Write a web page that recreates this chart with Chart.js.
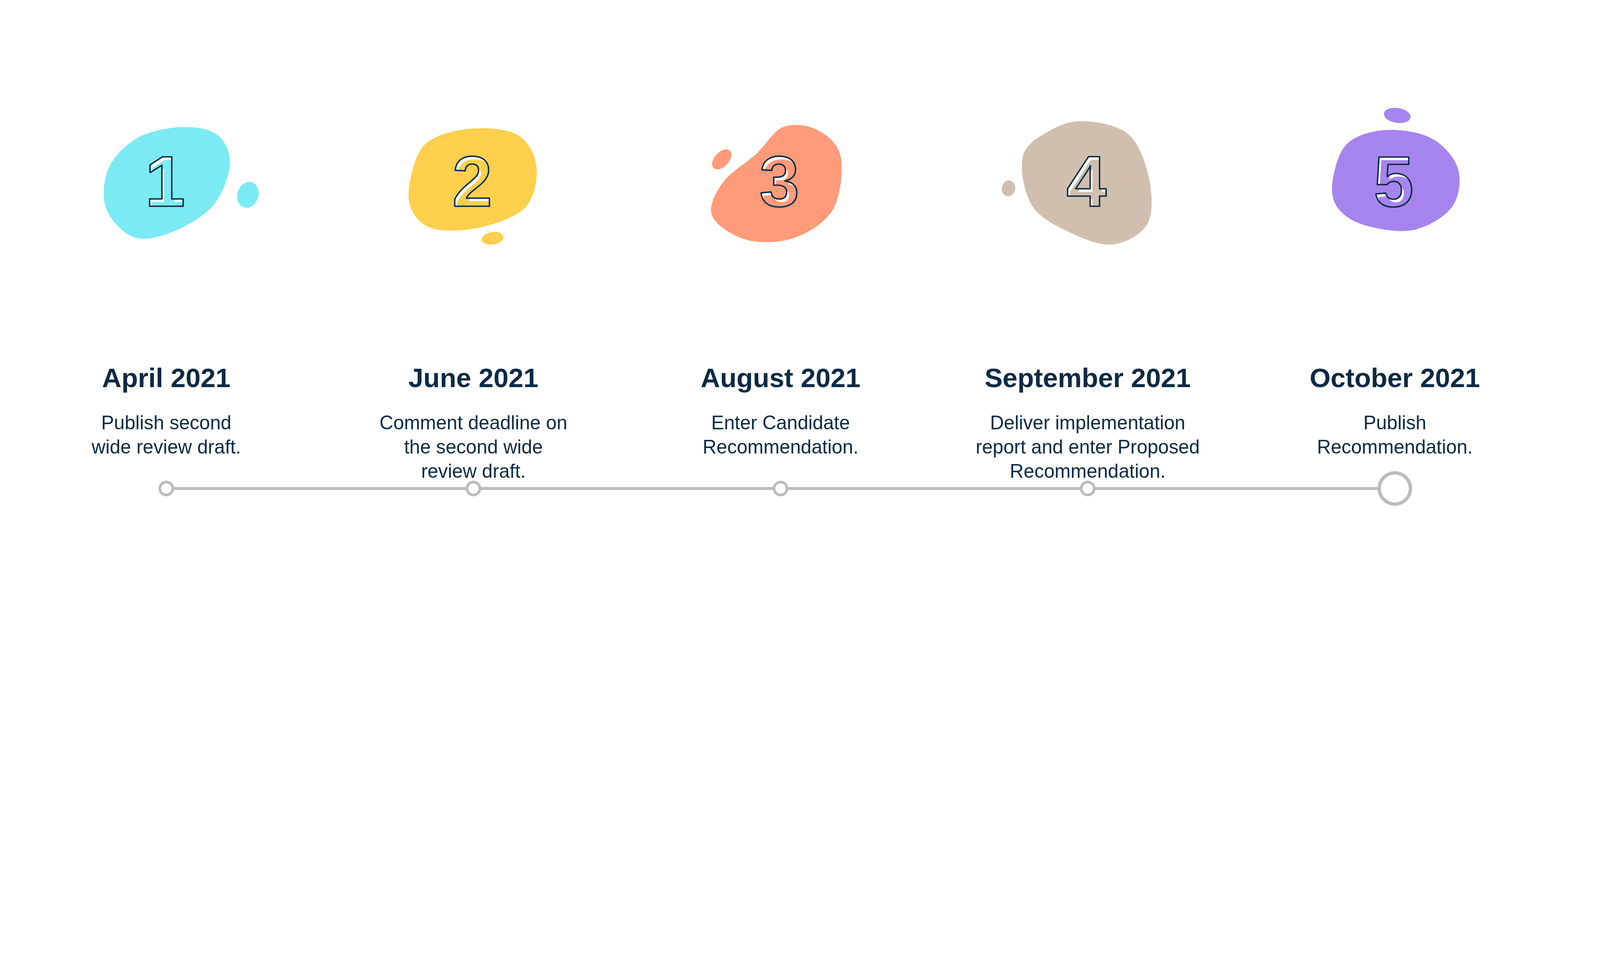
<!DOCTYPE html>
<html><head><meta charset="utf-8">
<script src="https://cdn.jsdelivr.net/npm/chart.js@4"></script>
<style>html,body{margin:0;padding:0;background:#fff;overflow:hidden}#wrap{position:absolute;left:0;top:0;width:100vw;height:100vh}</style>
</head><body>
<div id="wrap"><canvas id="c"></canvas></div>
<script>
const months = ["April 2021","June 2021","August 2021","September 2021","October 2021"];
const descriptions = [
  ["Publish second","wide review draft."],
  ["Comment deadline on","the second wide","review draft."],
  ["Enter Candidate","Recommendation."],
  ["Deliver implementation","report and enter Proposed","Recommendation."],
  ["Publish","Recommendation."]
];
const stepNumbers = ["1","2","3","4","5"];
const stepPositions = [0,1,2,3,4];
const blobColors = ["#7beaf2","#ffcf4d","#ff9b7a","#d0bfae","#a684ee"];

const INK = "#0b2a44";
const K = window.innerWidth / 6668;   // design units -> CSS px
// blob outlines as offsets from marker x, absolute y (design units, style only)
const blobShapes = [
  [[-250,870],[-240,700],[-120,575],[60,530],[210,560],[265,680],[200,850],[40,960],[-130,990]],
  [[-265,760],[-200,600],[-20,537],[180,560],[262,690],[220,860],[40,945],[-160,955],[-255,880]],
  [[-285,900],[-240,760],[-100,640],[10,530],[150,540],[250,650],[220,870],[60,990],[-140,1000]],
  [[-270,650],[-150,540],[-10,505],[170,560],[255,740],[250,930],[110,1018],[-60,975],[-230,860]],
  [[-260,760],[-200,600],[-40,542],[150,575],[262,700],[240,860],[80,958],[-120,940],[-235,870]]
];
const smallBlobs = [
  {dx:340,y:812,rx:44,ry:55,rot:0.3},
  {dx:80,y:993,rx:46,ry:26,rot:-0.15},
  {dx:-245,y:664,rx:30,ry:50,rot:0.75},
  {dx:-330,y:785,rx:28,ry:33,rot:0.2},
  {dx:10,y:481,rx:56,ry:31,rot:0.15}
];

function smoothClosed(ctx, pts){
  const n = pts.length;
  ctx.beginPath();
  ctx.moveTo(pts[0][0],pts[0][1]);
  for(let i=0;i<n;i++){
    const p0=pts[(i-1+n)%n],p1=pts[i],p2=pts[(i+1)%n],p3=pts[(i+2)%n];
    ctx.bezierCurveTo(p1[0]+(p2[0]-p0[0])/6,p1[1]+(p2[1]-p0[1])/6,
                      p2[0]-(p3[0]-p1[0])/6,p2[1]-(p3[1]-p1[1])/6,p2[0],p2[1]);
  }
  ctx.closePath();
}

const decor = {
  id:'decor',
  beforeDatasetsDraw(chart){
    const ctx = chart.ctx, xs = chart.scales.x;
    stepPositions.forEach((v,i)=>{
      const x = xs.getPixelForValue(v) / K;  // in design units
      ctx.save();
      ctx.scale(K,K);
      ctx.fillStyle = blobColors[i];
      smoothClosed(ctx, blobShapes[i].map(p=>[x+p[0],p[1]]));
      ctx.fill();
      const s = smallBlobs[i];
      ctx.beginPath();
      ctx.ellipse(x+s.dx,s.y,s.rx,s.ry,s.rot,0,Math.PI*2);
      ctx.fill();
      ctx.font = "bold 300px 'Liberation Sans', Arial, sans-serif";
      ctx.textAlign = "center"; ctx.textBaseline = "alphabetic";
      const nx = x - 5, ny = 860;
      ctx.fillStyle = "#ffffff";
      ctx.fillText(stepNumbers[i], nx, ny);
      ctx.fillStyle = blobColors[i];
      ctx.fillText(stepNumbers[i], nx+10, ny+13);
      ctx.lineWidth = 6; ctx.strokeStyle = INK; ctx.lineJoin = "round";
      ctx.strokeText(stepNumbers[i], nx, ny);
      ctx.fillStyle = INK;
      ctx.font = "bold 112px 'Liberation Sans', Arial, sans-serif";
      ctx.fillText(months[i], x, 1614);
      ctx.font = "80px 'Liberation Sans', Arial, sans-serif";
      descriptions[i].forEach((line,j)=> ctx.fillText(line, x, 1789 + j*101));
      ctx.restore();
    });
  }
};

new Chart(document.getElementById('c'), {
  type:'line',
  data:{ datasets:[{
    data: stepPositions.map(v=>({x:v,y:0.5})),
    borderColor:"#bbbbbb", borderWidth:12*K, clip:false,
    pointRadius:[27,27,27,27,65].map(r=>r*K), pointHoverRadius:[27,27,27,27,65].map(r=>r*K),
    pointBorderWidth:[11,11,11,11,14].map(r=>r*K), pointBorderColor:"#bbbbbb",
    pointBackgroundColor:"#ffffff", tension:0
  }]},
  options:{
    responsive:true, maintainAspectRatio:false, animation:false,
    layout:{padding:{left:693*K,right:855*K,top:0,bottom:57*K}},
    plugins:{legend:{display:false},tooltip:{enabled:false}},
    events:[],
    scales:{
      x:{type:'linear',min:0,max:4,display:false},
      y:{min:0,max:1,display:false}
    }
  },
  plugins:[decor]
});
</script>
</body></html>
